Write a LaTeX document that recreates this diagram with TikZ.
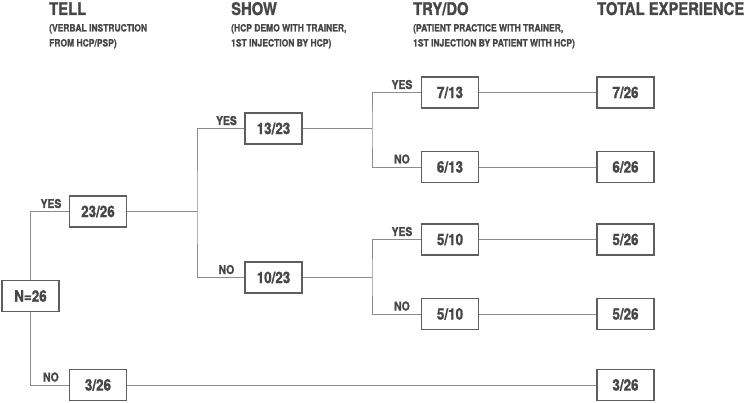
\documentclass[tikz,border=0pt]{standalone}
\usepackage{fontspec}
\setmainfont{TeX Gyre Heros}[FakeStretch=0.85,BoldFeatures={FakeBold=1.3}]
\definecolor{txt}{HTML}{464646}
\definecolor{lnc}{HTML}{8C8C8C}
\definecolor{bxc}{HTML}{5E5E5E}
\begin{document}
\begin{tikzpicture}[x=1pt,y=-1pt,
 box/.style={draw=bxc, line width=1.1pt, fill=white, minimum width=57pt, minimum height=31pt, inner sep=0pt, text=txt, font=\fontsize{15.8}{15.8}\selectfont\bfseries},
 conn/.style={draw=lnc, line width=0.9pt},
 lbl/.style={text=txt, font=\fontsize{12.2}{12.2}\selectfont\bfseries, inner sep=0pt, anchor=base},
 head/.style={text=txt, font=\fontsize{17.4}{17.4}\selectfont\bfseries, inner sep=0pt, anchor=base west},
 sub/.style={text=txt, font=\fontsize{10}{10}\selectfont\bfseries, inner sep=0pt, anchor=base west}]
\path[use as bounding box] (0,0) rectangle (749,403);

% headers
\node[head] (h1) at (49,15) {TELL};
\node[head] (h2) at (231,15) {SHOW};
\node[head] (h3) at (413,15) {TRY/DO};
\node[head] (h4) at (597,15) {TOTAL EXPERIENCE};
\node[sub] (s1a) at (49,31.5) {(VERBAL INSTRUCTION};
\node[sub] (s1b) at (49,46.5) {FROM HCP/PSP)};
\node[sub] (s2a) at (231,31.5) {(HCP DEMO WITH TRAINER,};
\node[sub] (s2b) at (231,46.5) {1ST INJECTION BY HCP)};
\node[sub] (s3a) at (413,31.5) {(PATIENT PRACTICE WITH TRAINER,};
\node[sub] (s3b) at (413,46.5) {1ST INJECTION BY PATIENT WITH HCP)};

% junction points
\coordinate (j1) at (197,211.5);
\coordinate (j2) at (372,128.5);
\coordinate (j3) at (372,277.5);

% boxes
\path (30.5,296) node[box] (n) {N=26};
\path (98,211.5) node[box] (a) {23/26};
\path (98,385) node[box] (b) {3/26};
\path (273.5,128.5) node[box] (c) {13/23};
\path (273.5,277.5) node[box] (d) {10/23};
\path (450,92.5) node[box] (e) {7/13};
\path (450,167) node[box] (f) {6/13};
\path (450,239.5) node[box] (g) {5/10};
\path (450,314) node[box] (h) {5/10};
\path (625.5,92.5) node[box] (E) {7/26};
\path (625.5,167) node[box] (F) {6/26};
\path (625.5,239.5) node[box] (G) {5/26};
\path (625.5,314) node[box] (H) {5/26};
\path (625.5,385) node[box] (B) {3/26};

% connectors
\draw[conn] (n.north) |- (a.west);
\draw[conn] (n.south) |- (b.west);
\draw[conn] (a.east) -- (j1);
\draw[conn] (c.west) -| (j1) |- (d.west);
\draw[conn] (c.east) -- (j2);
\draw[conn] (e.west) -| (j2) |- (f.west);
\draw[conn] (d.east) -- (j3);
\draw[conn] (g.west) -| (j3) |- (h.west);
\draw[conn] (e.east) -- (E.west);
\draw[conn] (f.east) -- (F.west);
\draw[conn] (g.east) -- (G.west);
\draw[conn] (h.east) -- (H.west);
\draw[conn] (b.east) -- (B.west);

% branch labels
\node[lbl] (la) at ([xshift=-18pt,yshift=3.5pt]a.west) {YES};
\node[lbl] (lb) at ([xshift=-18pt,yshift=3.5pt]b.west) {NO};
\node[lbl] (lc) at ([xshift=-18pt,yshift=3.5pt]c.west) {YES};
\node[lbl] (ld) at ([xshift=-18pt,yshift=3.5pt]d.west) {NO};
\node[lbl] (le) at ([xshift=-19pt,yshift=3.5pt]e.west) {YES};
\node[lbl] (lf) at ([xshift=-19pt,yshift=3.5pt]f.west) {NO};
\node[lbl] (lg) at ([xshift=-19pt,yshift=3.5pt]g.west) {YES};
\node[lbl] (lh) at ([xshift=-19pt,yshift=3.5pt]h.west) {NO};
\end{tikzpicture}
\end{document}
